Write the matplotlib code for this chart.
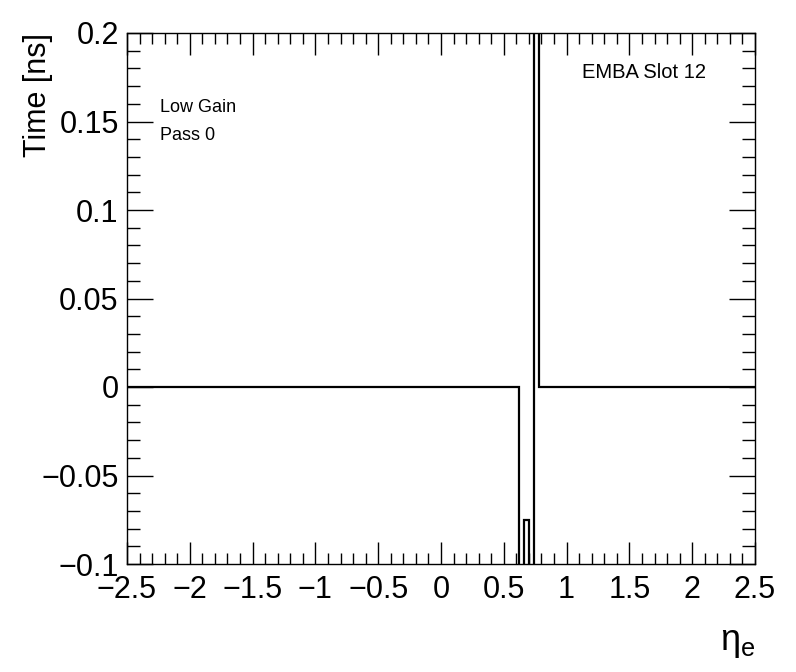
import matplotlib
matplotlib.use("Agg")
import matplotlib.pyplot as plt
from matplotlib.ticker import MultipleLocator, FuncFormatter

plt.rcParams['font.family'] = ['Liberation Sans', 'DejaVu Sans']

# histogram bins (eta edges) and time values; bins outside the y-range are clipped
eta_edges = [-2.5, 0.62, 0.66, 0.70, 0.74, 0.78, 2.5]
time_vals = [0.0, -0.5, -0.075, -0.5, 0.5, 0.0]

fig = plt.figure(figsize=(7.96, 6.72), dpi=100)
ax = fig.add_axes([127/796, 1 - 564/672, 628/796, 531/672])

ax.stairs(time_vals, eta_edges, color='black', lw=1.6, baseline=None)

ax.set_xlim(-2.5, 2.5)
ax.set_ylim(-0.1, 0.2)

def fmt(v, pos):
    s = '%g' % round(v, 6)
    return s.replace('-', '\u2212')

ax.xaxis.set_major_locator(MultipleLocator(0.5))
ax.xaxis.set_minor_locator(MultipleLocator(0.1))
ax.yaxis.set_major_locator(MultipleLocator(0.05))
ax.yaxis.set_minor_locator(MultipleLocator(0.01))
ax.xaxis.set_major_formatter(FuncFormatter(fmt))
ax.yaxis.set_major_formatter(FuncFormatter(fmt))

ax.tick_params(axis='both', which='both', direction='in', top=True, right=True,
               labelsize=22, width=1, color='black')
ax.tick_params(axis='x', which='major', length=16, pad=8)
ax.tick_params(axis='x', which='minor', length=8)
ax.tick_params(axis='y', which='major', length=19, pad=6)
ax.tick_params(axis='y', which='minor', length=9.5)
for s in ax.spines.values():
    s.set_linewidth(1)

ax.set_ylabel('Time [ns]', fontsize=22, loc='top')
ax.yaxis.set_label_coords(-0.118, 1.0)
fig.text(755/796, 1 - 643/672, r'$\mathregular{\eta_e}$', fontsize=26,
         ha='right', va='center')

ax.text(160/796, 1 - 108/672, 'Low Gain', transform=fig.transFigure,
        fontsize=13, va='center')
ax.text(160/796, 1 - 135/672, 'Pass 0', transform=fig.transFigure,
        fontsize=13, va='center')
ax.text(582/796, 1 - 73/672, 'EMBA Slot 12', transform=fig.transFigure,
        fontsize=14.5, va='center')

fig.savefig('out.png', dpi=100)
